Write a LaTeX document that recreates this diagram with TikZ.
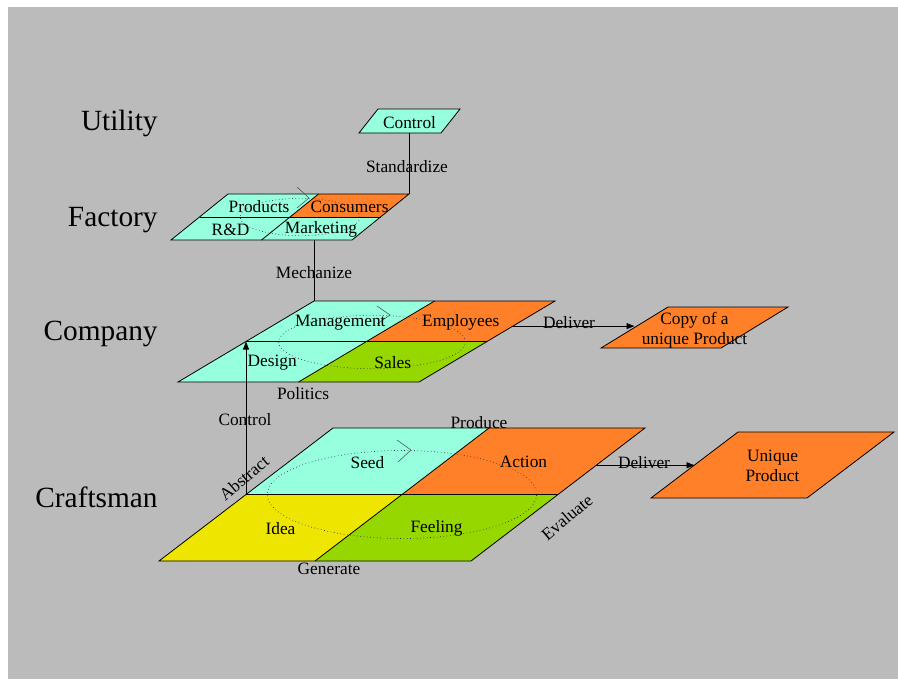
\documentclass[tikz,border=0pt]{standalone}
\usepackage{fontspec}
\setmainfont{Liberation Serif}
\usetikzlibrary{calc, arrows.meta}

\definecolor{slide}{RGB}{187,187,187}
\definecolor{aqua}{RGB}{150,255,222}
\definecolor{orng}{RGB}{255,128,40}
\definecolor{yell}{RGB}{238,230,0}
\definecolor{lime}{RGB}{150,215,0}

\tikzset{
    lbl/.style={font=\fontsize{13}{15}\selectfont, inner sep=0pt, yshift=-0.8pt},
    level/.style={font=\fontsize{22}{26}\selectfont, inner sep=0pt, anchor=east},
    loop/.style={dotted, draw=black!80, line width=0.5pt},
    looptip/.style={draw=black!70, line width=0.4pt},
    link/.style={line width=0.6pt},
    deliver/.style={link, -{Triangle[length=6pt,width=4.5pt]}}
}

\begin{document}
\begin{tikzpicture}[x=0.75pt, y=-0.75pt, line width=0.6pt]
    \useasboundingbox (0,0) rectangle (898,679);
    \fill[slide] (8,7) rectangle (898,679);

    % Esquinas de los tres niveles (artesano, empresa, fábrica)
    \foreach \lv/\bx/\by/\w/\h/\o in {cr/159/561/312/133/174, co/178/382/241/81/136, fa/171/240/181/46/57} {
        \coordinate (\lv-bl) at (\bx,\by);
        \coordinate (\lv-br) at (\bx+\w,\by);
        \coordinate (\lv-tl) at (\bx+\o,\by-\h);
        \coordinate (\lv-tr) at (\bx+\o+\w,\by-\h);
        \coordinate (\lv-ml) at (\bx+\o/2,\by-\h/2);
        \coordinate (\lv-mr) at (\bx+\o/2+\w,\by-\h/2);
        \coordinate (\lv-mb) at (\bx+\w/2,\by);
        \coordinate (\lv-mt) at (\bx+\o+\w/2,\by-\h);
        \coordinate (\lv-c) at (\bx+\o/2+\w/2,\by-\h/2);
    }

    % Cuadrantes con sus colores
    \foreach \lv/\ctl/\ctr/\cbl/\cbr in {cr/aqua/orng/yell/lime, co/aqua/orng/aqua/lime, fa/aqua/orng/aqua/aqua} {
        \fill[\ctl] (\lv-tl) -- (\lv-mt) -- (\lv-c) -- (\lv-ml) -- cycle;
        \fill[\ctr] (\lv-mt) -- (\lv-tr) -- (\lv-mr) -- (\lv-c) -- cycle;
        \fill[\cbl] (\lv-ml) -- (\lv-c) -- (\lv-mb) -- (\lv-bl) -- cycle;
        \fill[\cbr] (\lv-c) -- (\lv-mr) -- (\lv-br) -- (\lv-mb) -- cycle;
        \draw (\lv-bl) -- (\lv-br) -- (\lv-tr) -- (\lv-tl) -- cycle;
        \draw (\lv-ml) -- (\lv-mr);
        \draw (\lv-mb) -- (\lv-mt);
    }

    % Paralelogramos sueltos
    \foreach \pn/\bx/\by/\w/\h/\o/\col in {ctrl/359/133/82/24/19/aqua, copy/601/348/120/41/67/orng, uniq/651/498/156/66/87/orng} {
        \filldraw[fill=\col] (\bx,\by) coordinate (\pn-bl) -- ++(\w,0) -- ++(\o,-\h) coordinate (\pn-tr) -- ++(-\w,0) -- cycle;
        \coordinate (\pn-w) at (\bx+\o/2,\by-\h/2);
        \coordinate (\pn-c) at (\bx+\o/2+\w/2,\by-\h/2);
    }

    % Ciclos punteados
    \draw[loop] (cr-c) ellipse [x radius=101pt, y radius=33pt];
    \draw[looptip] (397,440) -- (411,450) -- (398,462);
    \draw[loop] (372,342) ellipse [x radius=70pt, y radius=20pt];
    \draw[looptip] (377,306) -- (390,315) -- (377,324);
    \draw[loop] (300,217) ellipse [x radius=45pt, y radius=14pt];
    \draw[looptip] (297,187) -- (309,198) -- (297,208);

    % Conexiones entre niveles
    \draw[link] (fa-tr) -- (fa-tr |- ctrl-bl);
    \draw[link] (co-tl) -- (co-tl |- fa-bl);
    \draw[link, -{Triangle[length=6pt,width=4.5pt]}] (cr-ml) -- (co-ml);
    \coordinate (cr-out) at ($(cr-tr)!0.56!(cr-mr)$);
    \coordinate (co-out) at ($(co-tr)!0.62!(co-mr)$);
    \draw[deliver] (cr-out) -- (cr-out -| uniq-w);
    \draw[deliver] (co-out) -- (co-out -| copy-w);

    % Textos de los cuadrantes
    \node[lbl] (seed) at ($(cr-tl)!0.5!(cr-c)$) {Seed};
    \node[lbl] (action) at ($(cr-mt)!0.5!(cr-mr)$) {Action};
    \node[lbl] (idea) at ($(cr-ml)!0.5!(cr-mb)$) {Idea};
    \node[lbl] (feeling) at ($(cr-c)!0.5!(cr-br)$) {Feeling};
    \node[lbl] (management) at ($(co-tl)!0.5!(co-c)$) {Management};
    \node[lbl] (employees) at ($(co-mt)!0.5!(co-mr)$) {Employees};
    \node[lbl] (design) at ($(co-ml)!0.5!(co-mb)$) {Design};
    \node[lbl] (sales) at ($(co-c)!0.5!(co-br)$) {Sales};
    \node[lbl] (products) at ($(fa-tl)!0.5!(fa-c)$) {Products};
    \node[lbl] (consumers) at ($(fa-mt)!0.5!(fa-mr)$) {Consumers};
    \node[lbl] (rnd) at ($(fa-ml)!0.5!(fa-mb)$) {R\&D};
    \node[lbl] (marketing) at ($(fa-c)!0.5!(fa-br)$) {Marketing};
    \node[lbl] (control-top) at (ctrl-c) {Control};
    \node[lbl, align=center] (copy-txt) at ([yshift=-1pt]copy-c) {Copy of a\\unique Product};
    \node[lbl, align=center] (uniq-txt) at (uniq-c) {Unique\\Product};

    % Rótulos de las conexiones
    \node[lbl] (standardize) at (407,165) {Standardize};
    \node[lbl] (mechanize) at (314,271) {Mechanize};
    \node[lbl] (control) at (245,418) {Control};
    \node[lbl] (politics) at (303,392) {Politics};
    \node[lbl] (produce) at (479,421) {Produce};
    \node[lbl] (generate) at (329,568) {Generate};
    \node[lbl, rotate=40] (abstract) at (244,477) {Abstract};
    \node[lbl, rotate=40] (evaluate) at (567,516) {Evaluate};
    \node[lbl] (deliver-co) at (569,321) {Deliver};
    \node[lbl] (deliver-cr) at (644,461) {Deliver};

    % Niveles
    \node[level] (utility) at (158,123) {Utility};
    \node[level] (factory) at (158,220) {Factory};
    \node[level] (company) at (158,334) {Company};
    \node[level] (craftsman) at (158,497) {Craftsman};
\end{tikzpicture}
\end{document}
